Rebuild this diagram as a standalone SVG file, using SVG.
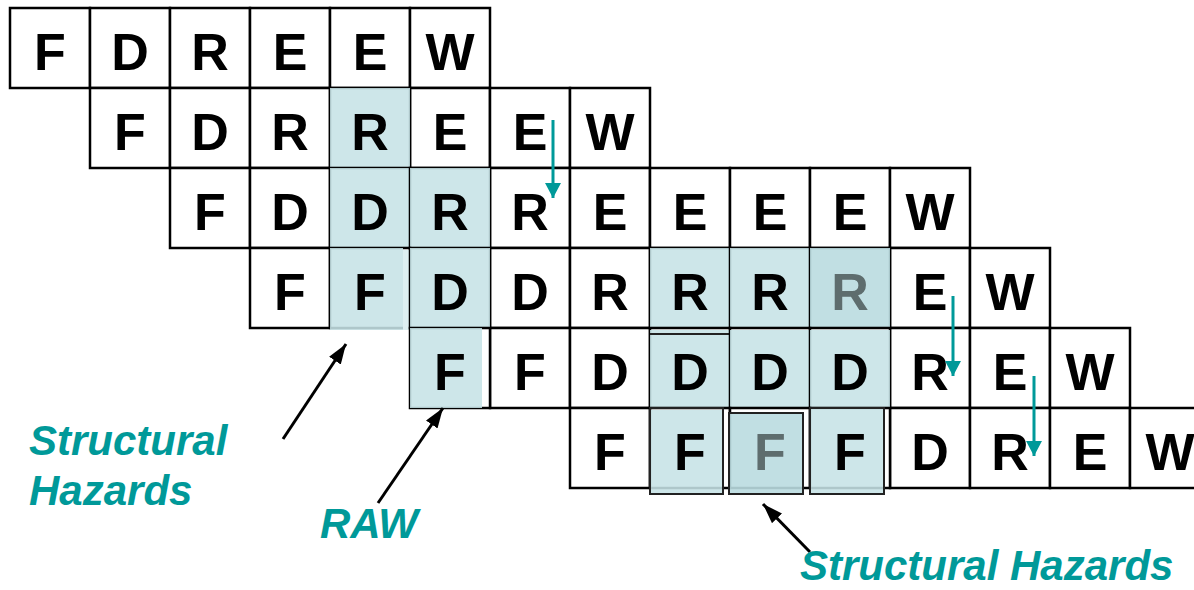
<svg xmlns="http://www.w3.org/2000/svg" width="1194" height="590" viewBox="0 0 1194 590">
<style>
.c{fill:#fff;stroke:#000;stroke-width:2.5}
.t{font-family:"Liberation Sans",Arial,sans-serif;font-weight:bold;font-size:52px;text-anchor:middle;fill:#000}
.g{fill:#5E6D6E}
.s{fill:#C6E3E6;fill-opacity:0.88}
.sl{fill:#DDEFF1}
.sd{fill:#BADCE0;fill-opacity:0.9}
.ob{fill:none;stroke:#222;stroke-width:2}
.lab{font-family:"Liberation Sans",Arial,sans-serif;font-weight:bold;font-style:italic;font-size:42px;fill:#009999}
.ta{stroke:#009999;stroke-width:3;fill:none}
.ba{stroke:#000;stroke-width:3;fill:none}
</style>
<defs>
<marker id="mt" markerUnits="userSpaceOnUse" markerWidth="18" markerHeight="18" refX="15" refY="8" orient="auto"><path d="M0,0 L15,8 L0,16 z" fill="#009999"/></marker>
<marker id="mb" markerUnits="userSpaceOnUse" markerWidth="22" markerHeight="16" refX="20" refY="7" orient="auto"><path d="M0,0 L20,7 L0,14 z" fill="#000"/></marker>
</defs>
<rect width="1194" height="590" fill="#fff"/>
<g id="row0">
<g id="r0c0"><rect class="c" x="10" y="8" width="80" height="80"/><text class="t" x="50" y="70">F</text></g>
<g id="r0c1"><rect class="c" x="90" y="8" width="80" height="80"/><text class="t" x="130" y="70">D</text></g>
<g id="r0c2"><rect class="c" x="170" y="8" width="80" height="80"/><text class="t" x="210" y="70">R</text></g>
<g id="r0c3"><rect class="c" x="250" y="8" width="80" height="80"/><text class="t" x="290" y="70">E</text></g>
<g id="r0c4"><rect class="c" x="330" y="8" width="80" height="80"/><text class="t" x="370" y="70">E</text></g>
<g id="r0c5"><rect class="c" x="410" y="8" width="80" height="80"/><text class="t" x="450" y="70">W</text></g>
</g>
<g id="row1">
<g id="r1c1"><rect class="c" x="90" y="88" width="80" height="80"/><text class="t" x="130" y="150">F</text></g>
<g id="r1c2"><rect class="c" x="170" y="88" width="80" height="80"/><text class="t" x="210" y="150">D</text></g>
<g id="r1c3"><rect class="c" x="250" y="88" width="80" height="80"/><text class="t" x="290" y="150">R</text></g>
<g id="r1c5"><rect class="c" x="410" y="88" width="80" height="80"/><text class="t" x="450" y="150">E</text></g>
<g id="r1c6"><rect class="c" x="490" y="88" width="80" height="80"/><text class="t" x="530" y="150">E</text></g>
<g id="r1c7"><rect class="c" x="570" y="88" width="80" height="80"/><text class="t" x="610" y="150">W</text></g>
</g>
<g id="row2">
<g id="r2c2"><rect class="c" x="170" y="168" width="80" height="80"/><text class="t" x="210" y="230">F</text></g>
<g id="r2c3"><rect class="c" x="250" y="168" width="80" height="80"/><text class="t" x="290" y="230">D</text></g>
<g id="r2c6"><rect class="c" x="490" y="168" width="80" height="80"/><text class="t" x="530" y="230">R</text></g>
<g id="r2c7"><rect class="c" x="570" y="168" width="80" height="80"/><text class="t" x="610" y="230">E</text></g>
<g id="r2c8"><rect class="c" x="650" y="168" width="80" height="80"/><text class="t" x="690" y="230">E</text></g>
<g id="r2c9"><rect class="c" x="730" y="168" width="80" height="80"/><text class="t" x="770" y="230">E</text></g>
<g id="r2c10"><rect class="c" x="810" y="168" width="80" height="80"/><text class="t" x="850" y="230">E</text></g>
<g id="r2c11"><rect class="c" x="890" y="168" width="80" height="80"/><text class="t" x="930" y="230">W</text></g>
</g>
<g id="row3">
<g id="r3c3"><rect class="c" x="250" y="248" width="80" height="80"/><text class="t" x="290" y="310">F</text></g>
<g id="r3c6"><rect class="c" x="490" y="248" width="80" height="80"/><text class="t" x="530" y="310">D</text></g>
<g id="r3c7"><rect class="c" x="570" y="248" width="80" height="80"/><text class="t" x="610" y="310">R</text></g>
<g id="r3c11"><rect class="c" x="890" y="248" width="80" height="80"/><text class="t" x="930" y="310">E</text></g>
<g id="r3c12"><rect class="c" x="970" y="248" width="80" height="80"/><text class="t" x="1010" y="310">W</text></g>
</g>
<g id="row4">
<g id="r4c6"><rect class="c" x="490" y="328" width="80" height="80"/><text class="t" x="530" y="390">F</text></g>
<g id="r4c7"><rect class="c" x="570" y="328" width="80" height="80"/><text class="t" x="610" y="390">D</text></g>
<g id="r4c11"><rect class="c" x="890" y="328" width="80" height="80"/><text class="t" x="930" y="390">R</text></g>
<g id="r4c12"><rect class="c" x="970" y="328" width="80" height="80"/><text class="t" x="1010" y="390">E</text></g>
<g id="r4c13"><rect class="c" x="1050" y="328" width="80" height="80"/><text class="t" x="1090" y="390">W</text></g>
</g>
<g id="row5">
<g id="r5c7"><rect class="c" x="570" y="408" width="80" height="80"/><text class="t" x="610" y="470">F</text></g>
<g id="r5c11"><rect class="c" x="890" y="408" width="80" height="80"/><text class="t" x="930" y="470">D</text></g>
<g id="r5c12"><rect class="c" x="970" y="408" width="80" height="80"/><text class="t" x="1010" y="470">R</text></g>
<g id="r5c13"><rect class="c" x="1050" y="408" width="80" height="80"/><text class="t" x="1090" y="470">E</text></g>
<g id="r5c14"><rect class="c" x="1130" y="408" width="80" height="80"/><text class="t" x="1170" y="470">W</text></g>
</g>
<g id="shaded">
<g id="r1c4"><rect class="c" x="330" y="88" width="80" height="80"/><rect class="s" x="330" y="88" width="80" height="80"/><text class="t" x="370" y="150">R</text></g>
<g id="r2c4"><rect class="c" x="330" y="168" width="80" height="80"/><rect class="s" x="330" y="168" width="80" height="80"/><text class="t" x="370" y="230">D</text></g>
<g id="r2c5"><rect class="c" x="410" y="168" width="80" height="80"/><rect class="s" x="410" y="168" width="80" height="80"/><text class="t" x="450" y="230">R</text></g>
<g id="r3c4"><rect class="c" x="330" y="248" width="80" height="80"/><rect class="sl" x="403" y="250" width="6" height="80"/><rect class="s" x="330" y="248" width="73" height="82"/><text class="t" x="370" y="310">F</text></g>
<g id="r3c5"><rect class="c" x="410" y="248" width="80" height="80"/><rect class="s" x="410" y="248" width="80" height="80"/><text class="t" x="450" y="310">D</text></g>
<g id="r4c5"><rect class="c" x="410" y="328" width="80" height="80"/><rect class="s" x="410" y="328" width="72" height="80"/><text class="t" x="450" y="390">F</text></g>
<g id="r3c8"><rect class="c" x="650" y="248" width="80" height="80"/><rect class="s" x="650" y="248" width="80" height="82"/><text class="t" x="690" y="310">R</text></g>
<g id="r3c9"><rect class="c" x="730" y="248" width="80" height="80"/><rect class="s" x="730" y="248" width="80" height="82"/><text class="t" x="770" y="310">R</text></g>
<g id="r3c10"><rect class="c" x="810" y="248" width="80" height="80"/><rect class="sd" x="810" y="248" width="80" height="82"/><text class="t g" x="850" y="310">R</text></g>
<g id="r4c8"><rect class="c" x="650" y="328" width="80" height="80"/><rect class="s" x="650" y="330" width="80" height="80"/><path class="ob" d="M650,334 H729"/><text class="t" x="690" y="390">D</text></g>
<g id="r4c9"><rect class="c" x="730" y="328" width="80" height="80"/><rect class="s" x="730" y="330" width="80" height="80"/><text class="t" x="770" y="390">D</text></g>
<g id="r4c10"><rect class="c" x="810" y="328" width="80" height="80"/><rect class="s" x="810" y="330" width="80" height="80"/><text class="t" x="850" y="390">D</text></g>
<g id="r5c8"><rect class="c" x="650" y="408" width="80" height="80"/><rect class="s" x="650" y="410" width="73" height="84"/><rect class="ob" x="650" y="408" width="73" height="86"/><text class="t" x="690" y="470">F</text></g>
<g id="r5c9"><rect class="c" x="730" y="408" width="80" height="80"/><rect class="sd" x="729" y="413" width="74" height="81"/><rect class="ob" x="729" y="413" width="74" height="81"/><text class="t g" x="770" y="470">F</text></g>
<g id="r5c10"><rect class="c" x="810" y="408" width="80" height="80"/><rect class="s" x="810" y="408" width="74" height="86"/><rect class="ob" x="810" y="408" width="74" height="86"/><text class="t" x="850" y="470">F</text></g>
</g>
<g id="connectors">
<line class="ta" x1="553" y1="120" x2="553" y2="198" marker-end="url(#mt)"/>
<line class="ta" x1="953" y1="296" x2="953" y2="376" marker-end="url(#mt)"/>
<line class="ta" x1="1034" y1="376" x2="1034" y2="456" marker-end="url(#mt)"/>
<line class="ba" x1="283" y1="439" x2="346" y2="344" marker-end="url(#mb)"/>
<line class="ba" x1="378" y1="503" x2="443" y2="408" marker-end="url(#mb)"/>
<line class="ba" x1="810" y1="552" x2="763" y2="504" marker-end="url(#mb)"/>
</g>
<g id="labels">
<text class="lab" x="29" y="455">Structural</text>
<text class="lab" x="29" y="505">Hazards</text>
<text class="lab" x="320" y="538">RAW</text>
<text class="lab" x="800" y="580">Structural Hazards</text>
</g>
</svg>
